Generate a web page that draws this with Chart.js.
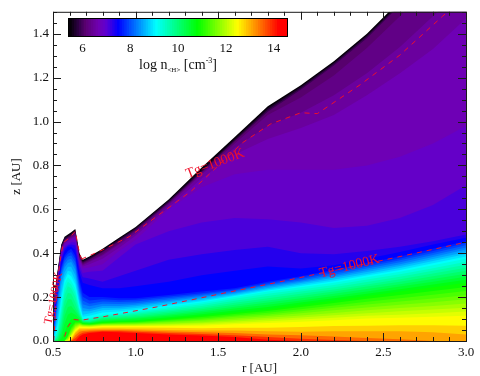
<!DOCTYPE html>
<html>
<head>
<meta charset="utf-8">
<script src="https://cdn.jsdelivr.net/npm/chart.js@4"></script>
<style>
  html, body { margin: 0; padding: 0; background: #fff; }
  #wrap { position: relative; width: 480px; height: 376px; overflow: hidden; filter: blur(0.45px); }
  #disk { position: absolute; left: 0; top: 0; }
  #bar { position: absolute; left: 60px; top: 14px; }
  #barTitle { position: absolute; left: 116px; top: 53px; width: 124px; text-align: center; font: 14px "Liberation Serif", serif; color: #111; line-height: 16px; }
  #barTitle sub { font-size: 7px; }
  #barTitle sup { font-size: 8px; }
</style>
</head>
<body>
<div id="wrap">
  <canvas id="disk" width="480" height="376"></canvas>
  <canvas id="bar" width="240" height="44"></canvas>
  <div id="barTitle">log n<sub>&lt;H&gt;</sub> [cm<sup>-3</sup>]</div>
</div>
<script>
// radius grid [AU] shared by all the density contours
const rGrid = [0.50,0.51,0.53,0.55,0.57,0.59,0.61,0.635,0.66,0.68,0.72,0.80,0.90,1.0,1.2,1.4,1.6,1.8,2.0,2.2,2.4,2.6,2.8,3.0];

// height z [AU] of each log n contour
const n142 = [0,0,0,0,0,0,0,0,.02,.03,.036,.042,.04,.036,.03,.025,.018,.006,0,0,0,0,0,0];
const n138 = [0,0,0,0,0,0,0,.012,.03,.038,.042,.046,.046,.042,.037,.032,.026,.018,.01,.004,0,0,0,0];
const n134 = [0,0,0,0,0,0,0,.025,.042,.046,.048,.05,.05,.048,.043,.04,.036,.03,.026,.02,.014,.008,0,0];
const n130 = [0,0,0,0,0,0,.005,.035,.052,.052,.054,.056,.056,.054,.05,.048,.048,.044,.042,.044,.044,.044,.04,.03];
const n127 = [0,0,0,0,0,0,.01,.042,.058,.058,.058,.062,.062,.062,.06,.058,.06,.06,.064,.068,.07,.072,.072,.07];
const n124 = [0,0,0,0,0,0,.02,.05,.065,.064,.063,.068,.068,.068,.068,.07,.076,.082,.088,.095,.102,.106,.11,.115];
const n122 = [0,0,0,0,0,.002,.025,.055,.068,.066,.065,.07,.07,.07,.072,.075,.082,.09,.098,.106,.115,.12,.126,.134];
const n120 = [0,0,0,0,0,.005,.03,.06,.072,.069,.067,.072,.073,.073,.076,.081,.089,.098,.107,.117,.127,.135,.143,.152];
const n118 = [0,0,0,0,0,.008,.035,.065,.075,.07,.069,.074,.075,.076,.08,.086,.096,.106,.116,.128,.14,.15,.16,.171];
const n116 = [0,0,0,0,0,.012,.04,.07,.078,.072,.071,.076,.078,.079,.085,.092,.103,.114,.126,.14,.153,.165,.177,.19];
const n114 = [0,0,0,0,0,.016,.048,.075,.08,.074,.072,.078,.08,.081,.089,.097,.11,.121,.135,.151,.166,.18,.194,.209];
const n112 = [0,0,0,0,0,.02,.055,.08,.083,.076,.074,.08,.083,.084,.093,.103,.116,.129,.145,.162,.179,.195,.211,.228];
const n110 = [0,0,0,0,0,.025,.062,.085,.085,.078,.076,.082,.085,.087,.097,.109,.123,.137,.155,.173,.192,.21,.228,.246];
const n108 = [0,0,0,0,0,.03,.07,.09,.088,.08,.078,.085,.088,.09,.102,.115,.13,.145,.165,.185,.205,.225,.245,.265];
const n106 = [0,0,0,.01,.04,.075,.10,.105,.094,.082,.08,.089,.092,.095,.108,.122,.139,.155,.175,.195,.215,.236,.257,.279];
const n104 = [0,0,0,.02,.08,.12,.13,.12,.10,.085,.082,.093,.097,.101,.115,.13,.148,.165,.185,.205,.226,.248,.27,.293];
const n102 = [0,0,.005,.04,.115,.155,.16,.135,.108,.088,.085,.097,.101,.106,.121,.137,.156,.175,.195,.215,.237,.259,.282,.306];
const n100 = [0,0,.01,.06,.15,.19,.19,.15,.115,.09,.087,.102,.106,.112,.128,.145,.165,.185,.205,.225,.248,.27,.295,.32];
const n98 = [0,0,.02,.085,.18,.22,.215,.175,.122,.092,.091,.106,.111,.118,.134,.152,.174,.195,.215,.235,.258,.281,.307,.334];
const n96 = [0,0,.03,.11,.21,.25,.24,.20,.13,.095,.095,.111,.116,.124,.141,.16,.183,.205,.225,.245,.269,.293,.32,.348];
const n94 = [0,.005,.045,.135,.235,.27,.258,.22,.14,.098,.10,.115,.12,.13,.148,.168,.192,.215,.235,.255,.28,.304,.332,.361];
const n92 = [0,.01,.06,.16,.26,.29,.275,.24,.15,.10,.105,.12,.125,.135,.155,.175,.20,.225,.245,.265,.29,.315,.345,.375];
const n90 = [0,.02,.08,.19,.275,.305,.295,.258,.162,.11,.115,.13,.134,.142,.162,.181,.205,.23,.251,.272,.298,.324,.354,.385];
const n88 = [0,.03,.10,.22,.29,.32,.315,.275,.175,.12,.125,.14,.143,.15,.169,.187,.21,.236,.258,.28,.305,.333,.364,.396];
const n86 = [0,.04,.135,.255,.312,.338,.338,.30,.192,.135,.135,.15,.152,.158,.176,.194,.215,.242,.264,.288,.314,.342,.374,.406];
const n84 = [0,.05,.17,.29,.335,.355,.36,.325,.21,.15,.145,.16,.16,.165,.182,.2,.22,.248,.27,.295,.322,.35,.383,.417];
const n82 = [0,.065,.19,.302,.35,.37,.375,.342,.228,.168,.158,.17,.169,.172,.189,.206,.225,.254,.276,.302,.33,.359,.392,.426];
const n80 = [0,.08,.21,.315,.365,.385,.39,.36,.245,.185,.17,.18,.178,.18,.196,.212,.23,.259,.283,.31,.338,.368,.401,.436];
const n78 = [0,.095,.23,.328,.378,.398,.405,.375,.262,.202,.185,.19,.186,.188,.203,.218,.235,.264,.289,.318,.346,.376,.41,.446];
const n76 = [0,.11,.25,.34,.39,.41,.42,.39,.28,.22,.20,.20,.195,.195,.21,.225,.24,.27,.295,.325,.355,.385,.42,.455];
const n74 = [0,.13,.26,.36,.41,.43,.43,.415,.31,.265,.255,.24,.24,.25,.27,.30,.32,.34,.33,.345,.375,.405,.44,.47];
const n72 = [0,.15,.27,.37,.42,.435,.44,.435,.33,.29,.285,.27,.295,.32,.37,.395,.415,.43,.40,.395,.41,.43,.455,.485];
const n70 = [0,.16,.28,.385,.43,.44,.45,.45,.345,.31,.315,.32,.38,.44,.50,.54,.56,.555,.54,.515,.525,.56,.62,.71];
const n68 = [0,.17,.29,.40,.44,.45,.46,.465,.36,.33,.335,.35,.41,.46,.60,.70,.76,.78,.78,.78,.80,.84,.90,.98];
const n66 = [0,.18,.30,.41,.445,.455,.465,.475,.37,.34,.35,.375,.425,.48,.61,.74,.85,.92,.97,1.03,1.12,1.22,1.33,1.47];
const n64 = [0,.19,.305,.415,.45,.46,.47,.48,.375,.345,.36,.39,.44,.49,.62,.76,.88,.98,1.04,1.12,1.22,1.34,1.48,1.62];
const n62 = [0,.20,.31,.42,.455,.465,.475,.49,.38,.35,.365,.395,.445,.50,.625,.765,.90,1.03,1.11,1.21,1.335,1.48,1.64,1.82];
const n60 = [0,.205,.315,.425,.46,.47,.48,.495,.385,.355,.37,.405,.455,.505,.63,.77,.91,1.045,1.145,1.255,1.38,1.53,1.69,1.86];
const n58 = [0,.21,.32,.43,.465,.475,.485,.50,.39,.36,.375,.41,.46,.51,.635,.775,.915,1.052,1.152,1.262,1.388,1.535,1.7,1.875];
const n56 = [0,.215,.325,.435,.47,.48,.49,.505,.395,.365,.38,.415,.465,.515,.64,.78,.92,1.06,1.158,1.268,1.393,1.54,1.71,1.89];
const n54 = [0,.22,.33,.44,.475,.485,.495,.51,.40,.37,.385,.42,.47,.52,.645,.79,.93,1.07,1.165,1.275,1.40,1.55,1.72,1.9];

const levels = [14.2,13.8,13.4,13.0,12.7,12.4,12.2,12.0,11.8,11.6,11.4,11.2,11.0,10.8,10.6,10.4,10.2,10.0,9.8,9.6,9.4,9.2,9.0,8.8,8.6,8.4,8.2,8.0,7.8,7.6,7.4,7.2,7.0,6.8,6.6,6.4,6.2,6.0,5.8,5.6,5.4];
const contours = [n142,n138,n134,n130,n127,n124,n122,n120,n118,n116,n114,n112,n110,n108,n106,n104,n102,n100,n98,n96,n94,n92,n90,n88,n86,n84,n82,n80,n78,n76,n74,n72,n70,n68,n66,n64,n62,n60,n58,n56,n54];

// Tg=1000K dashed lines
const wallR = [0.505,0.515,0.53,0.55,0.565,0.60,0.635,0.655,0.672];
const wallZ = [0,0.14,0.29,0.40,0.45,0.47,0.50,0.42,0.373];
const surfR = [0.672,0.80,0.965,1.087,1.34,1.65,1.815,2.0,2.1,2.36,2.6,2.857,2.95];
const surfZ = [0.373,0.415,0.477,0.545,0.685,0.905,0.988,1.04,1.036,1.168,1.303,1.479,1.54];
const midR = [0.57,0.59,0.62,0.672,0.80,1.127,1.56,1.875,2.54,3.0];
const midZ = [0.02,0.065,0.098,0.095,0.11,0.155,0.222,0.27,0.375,0.45];

const tgText = 'Tg=1000K';
const tgR = [1.481,2.294,0.504];
const tgZ = [0.808,0.34,0.195];
const tgAngle = [-21,-14,-78];
const tgSize = [14,14,12];

const xTicks = [0.5,1.0,1.5,2.0,2.5,3.0];
const yTicks = [0,0.2,0.4,0.6,0.8,1.0,1.2,1.4];
const barTicks = [6,8,10,12,14];

const mapLevels = [5.4,5.8,6.07,6.6,6.93,7.45,9.03,10.77,12.43,14.17,14.6];
const mapColors = [[0,0,0],[48,0,72],[90,0,112],[112,0,176],[96,0,208],[0,0,255],[0,255,255],[0,255,0],[255,255,0],[255,0,0],[255,0,0]];

function colorAt(v) {
  let i = 0;
  while (i < mapLevels.length - 2 && v > mapLevels[i + 1]) i++;
  const t = Math.max(0, Math.min(1, (v - mapLevels[i]) / (mapLevels[i + 1] - mapLevels[i])));
  const c = mapColors[i].map((a, k) => Math.round(a + (mapColors[i + 1][k] - a) * t));
  return 'rgb(' + c.join(',') + ')';
}

function zip(xs, ys) {
  return xs.map((x, i) => ({ x: x, y: ys[i] }));
}

const serif = '"Liberation Serif", serif';

const bands = contours.map((zs, i) => ({
  data: zip(rGrid, zs),
  backgroundColor: colorAt(levels[i] + 0.05),
  borderWidth: 0,
  pointRadius: 0,
  fill: 'origin',
  order: i + 1
}));
const dashed = [[wallR, wallZ], [surfR, surfZ], [midR, midZ]].map(l => ({
  data: zip(l[0], l[1]),
  borderColor: '#f0102a',
  borderWidth: 1,
  borderDash: [5, 5],
  pointRadius: 0,
  fill: false,
  order: 0
}));

// IDL style frame with inward ticks on all four sides, Tg labels on top
const framePlugin = {
  id: 'frame',
  afterDatasetsDraw(chart) {
    const c = chart.ctx, a = chart.chartArea, sx = chart.scales.x, sy = chart.scales.y;
    c.save();
    c.strokeStyle = '#1a1a1a';
    c.lineWidth = 1;
    c.beginPath();
    for (let i = 5; i <= 30; i++) {
      const px = Math.round(sx.getPixelForValue(i / 10)) + 0.5;
      const len = i % 5 === 0 ? 8 : 4;
      c.moveTo(px, a.bottom); c.lineTo(px, a.bottom - len);
      c.moveTo(px, a.top); c.lineTo(px, a.top + len);
    }
    for (let i = 0; i <= 30; i++) {
      const py = Math.round(sy.getPixelForValue(i / 20)) + 0.5;
      const len = i % 4 === 0 ? 8 : 4;
      c.moveTo(a.left, py); c.lineTo(a.left + len, py);
      c.moveTo(a.right, py); c.lineTo(a.right - len, py);
    }
    c.stroke();
    c.strokeRect(a.left + 0.5, a.top + 0.5, a.right - a.left, a.bottom - a.top);

    c.fillStyle = '#f0102a';
    c.textAlign = 'center';
    c.textBaseline = 'middle';
    tgR.forEach((r, i) => {
      c.save();
      c.translate(sx.getPixelForValue(r), sy.getPixelForValue(tgZ[i]));
      c.rotate(tgAngle[i] * Math.PI / 180);
      c.font = tgSize[i] + 'px ' + serif;
      c.fillText(tgText, 0, 0);
      c.restore();
    });
    c.restore();
  }
};

new Chart(document.getElementById('disk'), {
  type: 'line',
  data: { datasets: bands.concat(dashed) },
  plugins: [framePlugin],
  options: {
    responsive: false,
    animation: false,
    layout: { padding: { top: 7, right: 14, left: 0, bottom: 0 } },
    plugins: { legend: { display: false }, tooltip: { enabled: false } },
    elements: { line: { tension: 0 } },
    scales: {
      x: {
        type: 'linear', min: 0.5, max: 3.0,
        grid: { display: false, drawTicks: false }, border: { display: false },
        afterBuildTicks: s => { s.ticks = xTicks.map(v => ({ value: v })); },
        afterFit: s => { s.height = 35; },
        ticks: { maxRotation: 0, padding: 4, color: '#111', font: { family: serif, size: 13 }, callback: v => v.toFixed(1) },
        title: { display: true, text: 'r [AU]', color: '#111', font: { family: serif, size: 13 }, padding: { top: 1, bottom: 0 } }
      },
      y: {
        type: 'linear', min: 0, max: 1.5,
        grid: { display: false, drawTicks: false }, border: { display: false },
        afterBuildTicks: s => { s.ticks = yTicks.map(v => ({ value: v })); },
        afterFit: s => { s.width = 53; },
        ticks: { padding: 4, color: '#111', font: { family: serif, size: 13 }, callback: v => v.toFixed(1) },
        title: { display: true, text: 'z [AU]', color: '#111', font: { family: serif, size: 13 }, padding: { top: 9, bottom: 0 } }
      }
    }
  }
});

// colour bar: one short floating bar per step of the colour table
const barSets = [];
for (let i = 0; i < 92; i++) {
  const v = 5.4 + i * 0.1;
  barSets.push({ data: [[v, v + 0.13]], backgroundColor: colorAt(v + 0.05), borderWidth: 0, grouped: false, barPercentage: 1, categoryPercentage: 1 });
}

new Chart(document.getElementById('bar'), {
  type: 'bar',
  data: { labels: [''], datasets: barSets },
  plugins: [{
    id: 'barFrame',
    afterDatasetsDraw(chart) {
      const c = chart.ctx, a = chart.chartArea;
      c.save();
      c.strokeStyle = '#000';
      c.lineWidth = 1;
      c.strokeRect(a.left + 0.5, a.top + 0.5, a.right - a.left - 1, a.bottom - a.top - 1);
      c.restore();
    }
  }],
  options: {
    indexAxis: 'y',
    responsive: false,
    animation: false,
    layout: { padding: { left: 8, right: 12, top: 4, bottom: 0 } },
    plugins: { legend: { display: false }, tooltip: { enabled: false } },
    scales: {
      x: {
        type: 'linear', min: 5.39, max: 14.6,
        grid: { display: false, drawTicks: false }, border: { display: false },
        afterBuildTicks: s => { s.ticks = barTicks.map(v => ({ value: v })); },
        afterFit: s => { s.height = 21; },
        ticks: { padding: 4, maxRotation: 0, color: '#111', font: { family: serif, size: 13 } }
      },
      y: { display: false, stacked: false }
    }
  }
});
</script>
</body>
</html>
